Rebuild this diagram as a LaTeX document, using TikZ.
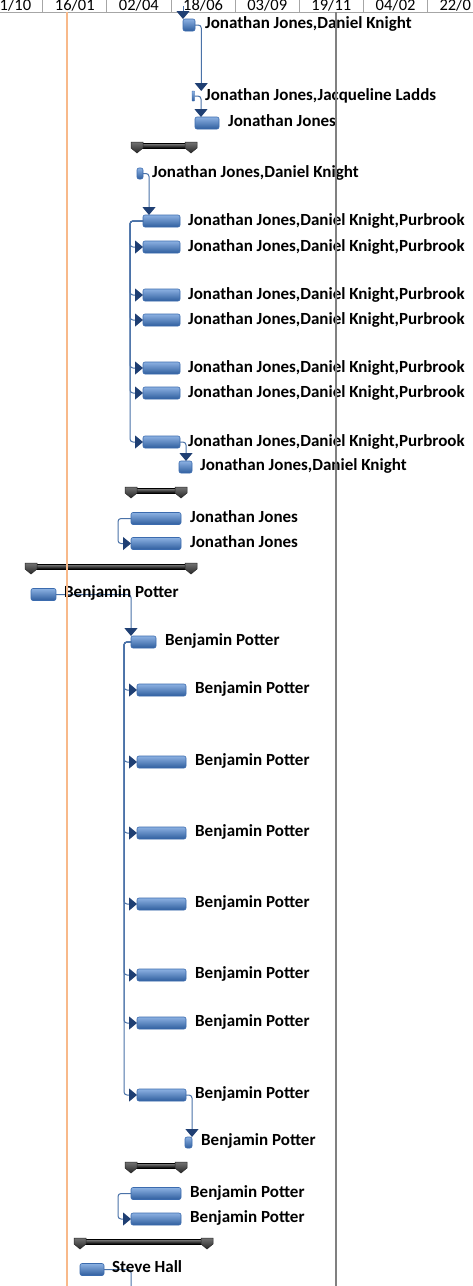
\documentclass[tikz,border=0pt]{standalone}
\usepackage{fontspec}
\setmainfont{Carlito}
\usetikzlibrary{arrows.meta,calc}
\definecolor{connc}{HTML}{4A72A8}
\definecolor{arrc}{HTML}{1F3F73}
\definecolor{barT}{HTML}{8CB1E2}
\definecolor{barB}{HTML}{2F5E9E}
\definecolor{barD}{HTML}{3B6BAE}
\definecolor{orng}{HTML}{F8B98A}
\definecolor{vgray}{HTML}{808080}
\definecolor{hgray}{HTML}{A6A6A6}
\tikzset{
 bar/.style={draw=barD, line width=0.6pt, rounded corners=2pt, top color=barT, bottom color=barB, minimum height=12pt, inner sep=0pt, outer sep=0pt},
 lbl/.style={anchor=base west, inner sep=0pt, font=\fontsize{17}{20}\selectfont\bfseries},
 hdr/.style={anchor=base, inner sep=0pt, font=\fontsize{16.5}{20}\selectfont},
 hdrw/.style={anchor=base west, inner sep=0pt, font=\fontsize{16.5}{20}\selectfont},
 link/.style={draw=connc, line width=1pt, rounded corners=3pt, -{Triangle[width=13pt,length=8pt,color=arrc]}},
 plainlink/.style={draw=connc, line width=1pt, rounded corners=3pt},
 sumbody/.style={draw=black, line width=0.5pt, top color=black!45, bottom color=black},
 sumcap/.style={draw=black!85, line width=0.5pt, top color=black!55, bottom color=black!85},
}
\newcommand\SumBar[3]{%
  \path[sumbody] (#1+6,#3+1) rectangle (#2-6,#3+6);
  \path[sumcap] (#1,#3) -- (#1+12,#3) -- (#1+12,#3+6) -- (#1+6,#3+11) -- (#1,#3+6) -- cycle;
  \path[sumcap] (#2-12,#3) -- (#2,#3) -- (#2,#3+6) -- (#2-6,#3+11) -- (#2-12,#3+6) -- cycle;
}
\begin{document}
\begin{tikzpicture}[x=1pt,y=-1pt]
\useasboundingbox (0,0) rectangle (473,1286);
\clip (0,0) rectangle (473,1286);
\fill[white] (0,0) rectangle (473,1286);
% header
\draw[hgray, line width=0.8pt] (0,12) -- (473,12);
\foreach \xx in {42.7,106.8,171,235.2,299.3,363.5,427.7}
  \draw[hgray, line width=0.8pt] (\xx,0) -- (\xx,12);
\node[hdrw] (h0) at (-0.5,10.8) {1/10};
\node[hdr] (h1) at (74.8,10.8) {16/01};
\node[hdr] (h2) at (138.9,10.8) {02/04};
\node[hdr] (h3) at (203.1,10.8) {18/06};
\node[hdr] (h4) at (267.2,10.8) {03/09};
\node[hdr] (h5) at (331.4,10.8) {19/11};
\node[hdr] (h6) at (395.6,10.8) {04/02};
\node[hdrw] (h7) at (439.3,10.8) {22/0};

% group 1
\coordinate (top0) at (183,6);
\node[bar,minimum width=12pt] (b1) at (189,25) {};
\node[bar,minimum width=2.5pt,minimum height=10pt,rounded corners=0.5pt,line width=0.4pt] (b2) at (193.25,96) {};
\node[bar,minimum width=24pt] (b3) at (207,123) {};
\draw[link] (top0) -- (top0 |- b1.north);
\draw[link] (b1.east) -| ($(b2.north)+(8,0)$);
\draw[link] (b2.east) -| ($(b3.north west)+(6,0)$);
\node[lbl] (l1) at (205,28) {Jonathan Jones,Daniel Knight};
\node[lbl] (l2) at (205,100) {Jonathan Jones,Jacqueline Ladds};
\node[lbl] (l3) at (228,126) {Jonathan Jones};

\SumBar{131}{197}{142}

% group 2
\node[bar,minimum width=6pt,minimum height=11pt] (c0) at (140,173.5) {};
\foreach \n/\yy in {1/221,2/247,3/295,4/320,5/368,6/393,7/442}
  \node[bar,minimum width=37pt] (c\n) at (161.5,\yy) {};
\node[bar,minimum width=13pt] (c8) at (185.5,467) {};
\draw[link] (c0.east) -| ($(c1.north west)+(6,0)$);
\foreach \n in {2,...,7}
  \draw[link] (c1.west) -- ++(-13,0) |- (c\n.west);
\draw[link] (c7.east) -| ($(c8.north west)+(7,0)$);
\node[lbl] (m0) at (152,177) {Jonathan Jones,Daniel Knight};
\foreach \n/\yy in {1/225,2/251,3/299,4/324,5/372,6/397,7/446}
  \node[lbl] (m\n) at (188,\yy) {Jonathan Jones,Daniel Knight,Purbrook};
\node[lbl] (m8) at (200,470) {Jonathan Jones,Daniel Knight};

\SumBar{125}{187}{487}

% group 3
\node[bar,minimum width=50pt] (d1) at (156,518.5) {};
\node[bar,minimum width=50pt] (d2) at (156,543.5) {};
\draw[link] (d1.west) -- ++(-13,0) |- (d2.west);
\node[lbl] (n1) at (190,522) {Jonathan Jones};
\node[lbl] (n2) at (190,547) {Jonathan Jones};

\SumBar{25}{197}{563}

% group 4
\node[bar,minimum width=25pt] (e0) at (43.5,594.5) {};
\node[bar,minimum width=25pt] (e1) at (143.5,642) {};
\foreach \n/\yy in {2/690,3/762,4/833,5/904,6/975,7/1023,8/1095}
  \node[bar,minimum width=49pt] (e\n) at (161.5,\yy) {};
\node[bar,minimum width=7pt,minimum height=11pt] (e9) at (188.5,1142.5) {};
\draw[link] (e0.east) -| (e1.north west);
\foreach \n in {2,...,8}
  \draw[link] (e1.west) -- ++(-7,0) |- (e\n.west);
\draw[link] (e8.east) -| (e9.north east);
\node[lbl] (p0) at (64,597) {Benjamin Potter};
\node[lbl] (p1) at (165,645) {Benjamin Potter};
\foreach \n/\yy in {2/693,3/765,4/836,5/907,6/978,7/1026,8/1098}
  \node[lbl] (p\n) at (195,\yy) {Benjamin Potter};
\node[lbl] (p9) at (201,1145) {Benjamin Potter};

\SumBar{125}{187}{1162}

% group 5
\node[bar,minimum width=50pt] (f1) at (156,1193.5) {};
\node[bar,minimum width=50pt] (f2) at (156,1219) {};
\draw[link] (f1.west) -- ++(-13,0) |- (f2.west);
\node[lbl] (q1) at (190,1197) {Benjamin Potter};
\node[lbl] (q2) at (190,1222) {Benjamin Potter};

\SumBar{74}{213}{1238}

% group 6
\node[bar,minimum width=24pt] (g1) at (92,1269.5) {};
\coordinate (gend) at (131,1295);
\draw[plainlink] (g1.east) -| (gend);
\node[lbl] (s1) at (112,1272) {Steve Hall};

% vertical lines
\draw[orng, line width=1.5pt] (66.8,12) -- (66.8,1286);
\draw[vgray, line width=2pt] (336,12) -- (336,1286);
\end{tikzpicture}
\end{document}
